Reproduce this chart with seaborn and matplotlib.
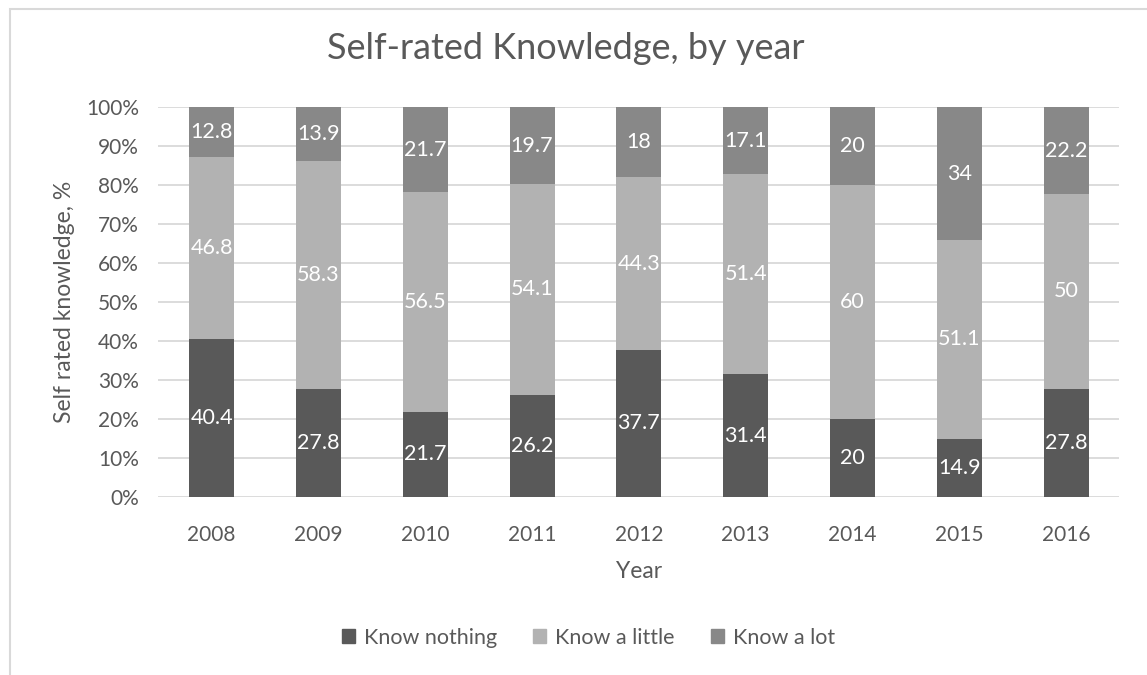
import matplotlib.pyplot as plt
import seaborn as sns
import pandas as pd
from matplotlib.patches import Rectangle

years = ['2008', '2009', '2010', '2011', '2012', '2013', '2014', '2015', '2016']
know_nothing = [40.4, 27.8, 21.7, 26.2, 37.7, 31.4, 20, 14.9, 27.8]
know_little = [46.8, 58.3, 56.5, 54.1, 44.3, 51.4, 60, 51.1, 50]
know_lot = [12.8, 13.9, 21.7, 19.7, 18, 17.1, 20, 34, 22.2]

series = ['Know nothing', 'Know a little', 'Know a lot']
colors = ['#595959', '#b2b2b2', '#888888']

df = pd.DataFrame({'Year': years, 'Know nothing': know_nothing,
                   'Know a little': know_little, 'Know a lot': know_lot})
total = df[series].sum(axis=1)
cum = pd.Series([0.0] * len(df))
for s in series:
    df[s + '_pct'] = df[s] / total * 100
    cum = cum + df[s + '_pct']
    df[s + '_cum'] = cum

sns.set_theme(style='white')
plt.rcParams['font.family'] = ['Lato', 'DejaVu Sans']
txt = '#595959'

fig = plt.figure(figsize=(11.47, 6.75), dpi=100)
ax = fig.add_axes([0.138, 0.264, 0.838, 0.577])

# stacked: draw cumulative heights, tallest first
for s, c in reversed(list(zip(series, colors))):
    sns.barplot(data=df, x='Year', y=s + '_cum', color=c, width=0.42,
                saturation=1, linewidth=0, ax=ax, zorder=2)

ax.set_ylim(0, 100)
ax.set_yticks(range(0, 101, 10))
ax.set_yticklabels([f'{v}%' for v in range(0, 101, 10)])
ax.yaxis.grid(True, color='#d9d9d9', linewidth=1.3, zorder=0)
ax.set_axisbelow(True)
for sp in ax.spines.values():
    sp.set_visible(False)
ax.tick_params(axis='both', length=0, labelsize=15, colors=txt)
ax.tick_params(axis='x', pad=20)
ax.tick_params(axis='y', pad=14)
ax.set_xlabel('Year', fontsize=16.5, color=txt, labelpad=12)
ax.set_ylabel('Self rated knowledge, %', fontsize=16.5, color=txt, labelpad=8)

# value labels
for i in range(len(df)):
    lo = 0.0
    for s in series:
        v = df[s][i]
        h = df[s + '_pct'][i]
        ax.text(i, lo + h / 2, f'{v:g}', ha='center', va='center',
                color='white', fontsize=15.5)
        lo += h

fig.suptitle('Self-rated Knowledge, by year', fontsize=26, color=txt,
             x=0.493, y=0.952)

handles = [Rectangle((0, 0), 1, 1, color=c) for c in colors]
fig.legend(handles, series, loc='center', bbox_to_anchor=(0.513, 0.055), ncol=3,
           frameon=False, fontsize=15.5, labelcolor=txt, handlelength=0.6,
           handleheight=0.6, columnspacing=1.7, handletextpad=0.4)

fig.patches.append(Rectangle((10 / 1147, -0.1), 1.2, 1.1 - 9 / 675,
                             transform=fig.transFigure, fill=False,
                             edgecolor='#d9d9d9', linewidth=1.5))

plt.savefig('out.png', dpi=100)
